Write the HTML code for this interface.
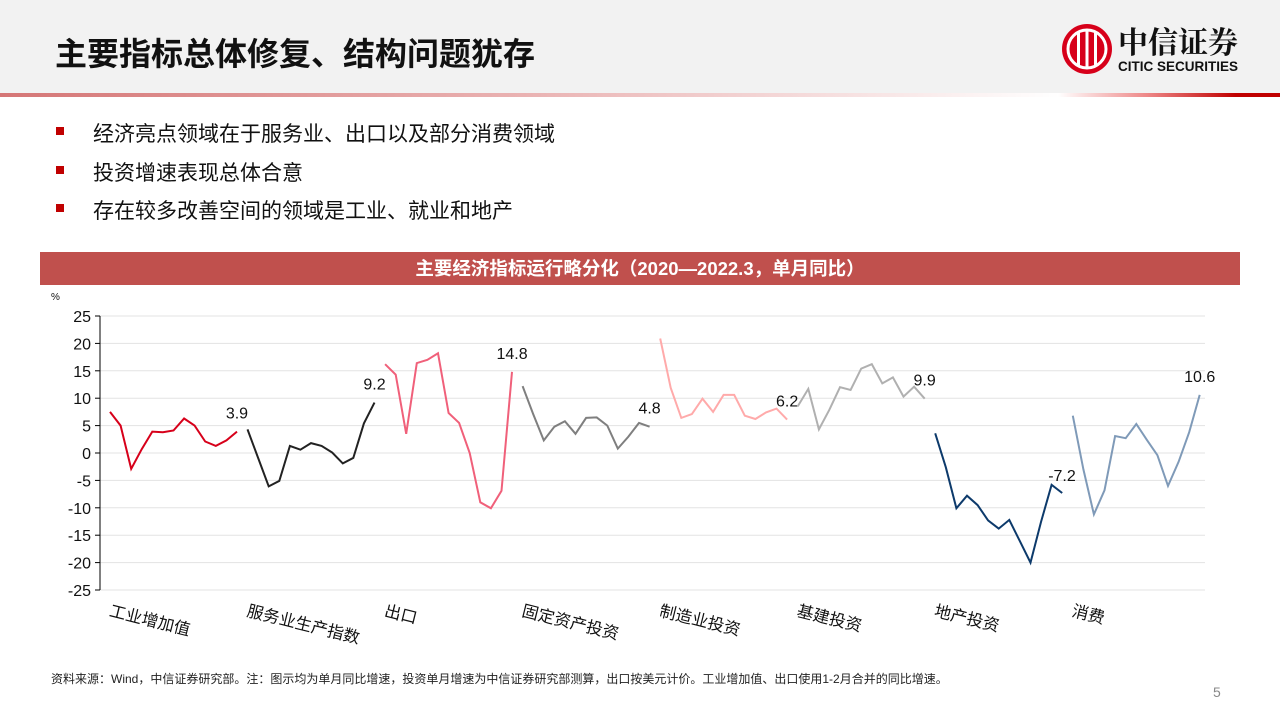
<!DOCTYPE html>
<html><head><meta charset="utf-8"><style>
body{margin:0;width:1280px;height:720px;position:relative;background:#fff;font-family:"Liberation Sans","Noto Sans CJK SC",sans-serif;overflow:hidden}
.hdr{position:absolute;left:0;top:0;width:1280px;height:93px;background:#f2f2f2}
.title{position:absolute;left:55px;top:29px;font-size:32px;font-weight:bold;color:#111}
.line1{position:absolute;left:0;top:93px;width:1060px;height:4px;background:linear-gradient(to right,#d57676,#eab3b3 50%,#fff)}
.line2{position:absolute;left:1058px;top:93px;width:222px;height:4px;background:linear-gradient(to right,#fff,#e88 40%,#c00000 80%)}
.b{position:absolute;left:93px;font-size:21px;color:#111}
.sq{position:absolute;left:56px;width:8px;height:8px;background:#c00000}
.bar{position:absolute;left:40px;top:252px;width:1200px;height:33px;background:#c0504d;color:#fff;font-weight:bold;font-size:18.5px;text-align:center;line-height:33px}
.src{position:absolute;left:51px;top:670px;font-size:12px;color:#222}
.pg{position:absolute;left:1213px;top:684px;font-size:14px;color:#888}
</style></head><body>
<div class="hdr"></div>
<div class="title">主要指标总体修复、结构问题犹存</div>
<svg style="position:absolute;left:1060px;top:22px" width="200" height="56">
<circle cx="27" cy="27" r="25" fill="#d7001a"/>
<circle cx="27" cy="27" r="19" fill="none" stroke="#fff" stroke-width="3"/>
<rect x="17" y="10" width="3" height="34" fill="#fff"/><rect x="25.5" y="8" width="3" height="38" fill="#fff"/><rect x="34" y="10" width="3" height="34" fill="#fff"/>
<text x="58" y="31" font-size="30" font-weight="bold" font-family="Noto Serif CJK SC,serif" fill="#111">中信证券</text>
<text x="58" y="49" font-size="13.5" font-weight="bold" font-family="Liberation Sans,sans-serif" fill="#111">CITIC SECURITIES</text>
</svg>
<div class="line1"></div><div class="line2"></div>
<div class="sq" style="top:127px"></div><div class="b" style="top:118px">经济亮点领域在于服务业、出口以及部分消费领域</div>
<div class="sq" style="top:166px"></div><div class="b" style="top:157px">投资增速表现总体合意</div>
<div class="sq" style="top:204px"></div><div class="b" style="top:195px">存在较多改善空间的领域是工业、就业和地产</div>
<div class="bar">主要经济指标运行略分化（2020—2022.3，单月同比）</div>
<svg id="c" style="position:absolute;left:0;top:0" width="1280" height="720"></svg>
<div class="src">资料来源：Wind，中信证券研究部。注：图示均为单月同比增速，投资单月增速为中信证券研究部测算，出口按美元计价。工业增加值、出口使用1-2月合并的同比增速。</div>
<div class="pg">5</div>
<script>
var d=[[7.5,5,-2.9,0.7,3.9,3.8,4.1,6.3,5,2.1,1.3,2.3,3.9],
[4.3,-0.9,-6.1,-5.1,1.3,0.6,1.8,1.3,0.1,-1.9,-0.9,5.4,9.2],
[16.2,14.3,3.5,16.4,17,18.2,7.3,5.5,0,-9,-10.1,-6.9,14.8],
[12.2,7.1,2.3,4.8,5.8,3.5,6.4,6.5,5,0.8,3,5.5,4.8],
[20.9,11.9,6.4,7.1,9.9,7.5,10.6,10.6,6.8,6.2,7.4,8.1,6.1],
[8.5,11.7,4.3,7.9,12,11.5,15.4,16.2,12.7,13.8,10.3,12.1,9.9],
[3.6,-2.6,-10.1,-7.8,-9.5,-12.3,-13.8,-12.2,-16.1,-20,-12.6,-5.8,-7.3],
[6.8,-3,-11.2,-6.8,3.1,2.7,5.3,2.4,-0.4,-6,-1.6,3.8,10.6]];
var col=["#d7001a","#222","#f0607a","#7f7f7f","#ffaaaa","#b0b0b0","#0d3a6b","#7f9ab8"];
var lab=["3.9","9.2","14.8","4.8","6.2","9.9","-7.2","10.6"];
var cat=["工业增加值","服务业生产指数","出口","固定资产投资","制造业投资","基建投资","地产投资","消费"];
var s="";
function Y(v){return 453-v*5.48}
for(var t=-25;t<=25;t+=5){var y=Y(t);s+='<line x1="100" x2="1205" y1="'+y+'" y2="'+y+'" stroke="#e3e3e3"/>';
s+='<line x1="95" x2="100" y1="'+y+'" y2="'+y+'" stroke="#000"/>';
s+='<text x="91" y="'+(y+6)+'" font-size="16" text-anchor="end" fill="#111">'+t+'</text>';}
s+='<line x1="100" x2="100" y1="316" y2="590" stroke="#000"/>';
s+='<text x="51" y="300" font-size="10" fill="#111">%</text>';
for(var g=0;g<8;g++){var p=[];for(var k=0;k<13;k++){p.push((110+(13*g+k)*10.58).toFixed(1)+","+Y(d[g][k]).toFixed(1));}
s+='<polyline fill="none" stroke="'+col[g]+'" stroke-width="2" points="'+p.join(" ")+'"/>';
var lx=110+(13*g+12)*10.58, ly=Y(d[g][12])-13; if(g==6){ly=481;lx=1062;}
s+='<text x="'+lx+'" y="'+ly+'" font-size="16" text-anchor="middle" fill="#111">'+lab[g]+'</text>';
var cx=110+g*137.5;
s+='<text x="'+cx+'" y="616" font-size="16.5" fill="#111" transform="rotate(14 '+cx+' 610)">'+cat[g]+'</text>';}
document.getElementById("c").innerHTML=s;
</script>
</body></html>
